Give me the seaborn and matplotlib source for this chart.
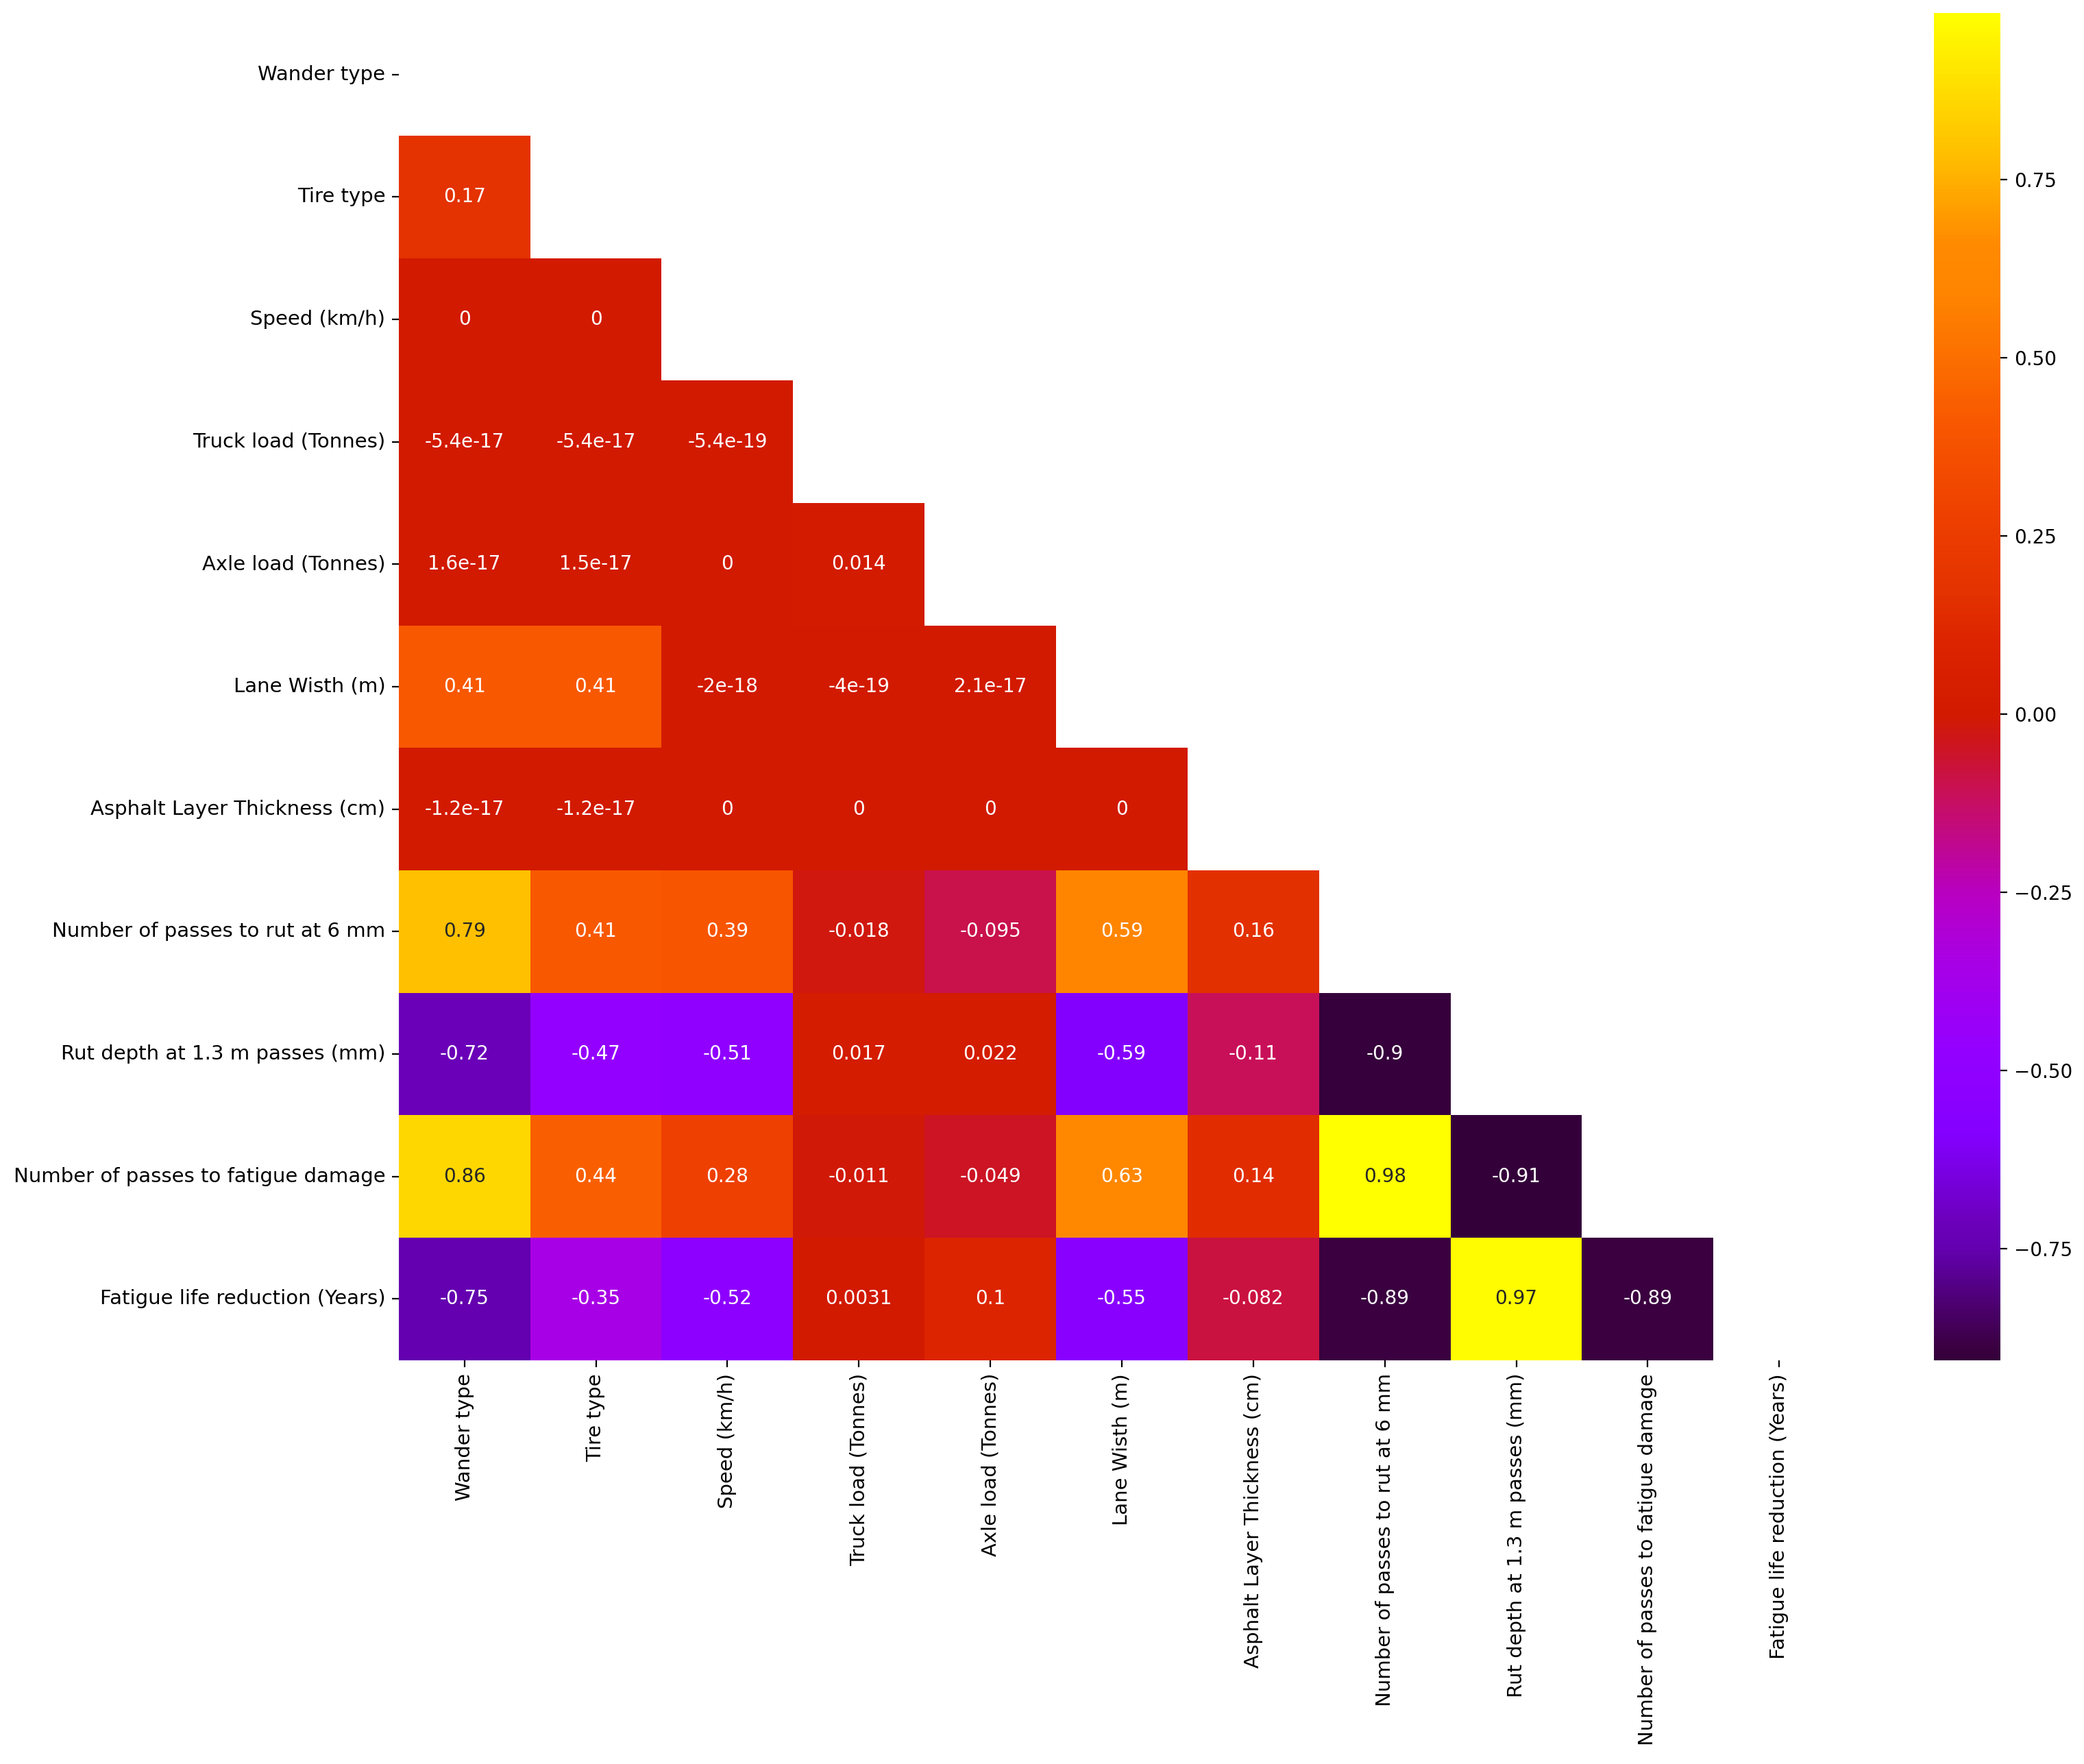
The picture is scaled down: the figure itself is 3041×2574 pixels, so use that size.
import numpy as np
import pandas as pd
import seaborn as sns
import matplotlib
matplotlib.use("Agg")
import matplotlib.pyplot as plt
from matplotlib.colors import LinearSegmentedColormap

# Variable names (rows and columns of the correlation matrix)
labels = [
    "Wander type",
    "Tire type",
    "Speed (km/h)",
    "Truck load (Tonnes)",
    "Axle load (Tonnes)",
    "Lane Wisth (m)",
    "Asphalt Layer Thickness (cm)",
    "Number of passes to rut at 6 mm",
    "Rut depth at 1.3 m passes (mm)",
    "Number of passes to fatigue damage",
    "Fatigue life reduction (Years)",
]

# Lower-triangle correlation values, read row by row
row_tire = [0.17]
row_speed = [0, 0]
row_truck = [-5.4e-17, -5.4e-17, -5.4e-19]
row_axle = [1.6e-17, 1.5e-17, 0, 0.014]
row_lane = [0.41, 0.41, -2e-18, -4e-19, 2.1e-17]
row_asphalt = [-1.2e-17, -1.2e-17, 0, 0, 0, 0]
row_rut_passes = [0.79, 0.41, 0.39, -0.018, -0.095, 0.59, 0.16]
row_rut_depth = [-0.72, -0.47, -0.51, 0.017, 0.022, -0.59, -0.11, -0.9]
row_fatigue_passes = [0.86, 0.44, 0.28, -0.011, -0.049, 0.63, 0.14, 0.983, -0.906]
row_fatigue_life = [-0.75, -0.35, -0.52, 0.0031, 0.1, -0.55, -0.082, -0.89, 0.97, -0.89]

lower_rows = [[], row_tire, row_speed, row_truck, row_axle, row_lane, row_asphalt,
              row_rut_passes, row_rut_depth, row_fatigue_passes, row_fatigue_life]

# Build a symmetric matrix from the lower triangle
n = len(labels)
corr = np.eye(n)
for i, row in enumerate(lower_rows):
    for j, v in enumerate(row):
        corr[i, j] = v
        corr[j, i] = v
corr_df = pd.DataFrame(corr, index=labels, columns=labels)

mask = np.triu(np.ones_like(corr, dtype=bool))

# gnuplot-like colour ramp, tuned to the colours seen in the picture
vmin, vmax = -0.906, 0.983
ramp = [
    (-0.906, "#34003a"), (-0.89, "#3a0040"), (-0.75, "#6400b0"), (-0.72, "#6a00b8"),
    (-0.59, "#8400ff"), (-0.47, "#9400ff"), (-0.35, "#a800e6"), (-0.25, "#b800c0"),
    (-0.11, "#c81058"), (-0.049, "#cc1424"), (0.0, "#d21a00"), (0.1, "#dc2400"),
    (0.17, "#e43200"), (0.28, "#ee4000"), (0.41, "#f85800"), (0.59, "#ff8500"),
    (0.66, "#ff8a00"), (0.79, "#ffc000"), (0.86, "#ffd700"), (0.983, "#ffff00"),
]
cmap = LinearSegmentedColormap.from_list(
    "gnuplot_bright", [((v - vmin) / (vmax - vmin), c) for v, c in ramp], N=512)

plt.rcParams["font.size"] = 10
fig = plt.figure(figsize=(15.205, 12.87), dpi=200)
ax = fig.add_axes([0.1913, 0.229, 0.694, 0.7635])
cax = fig.add_axes([0.928, 0.229, 0.032, 0.7635])

sns.heatmap(corr_df, mask=mask, annot=True, cmap=cmap, vmin=vmin, vmax=vmax,
            ax=ax, cbar_ax=cax)
ax.set_xticklabels(ax.get_xticklabels(), rotation=90, fontsize=10.5)
ax.set_yticklabels(ax.get_yticklabels(), rotation=0, fontsize=10.5)

fig.savefig("out.png", dpi=200)
